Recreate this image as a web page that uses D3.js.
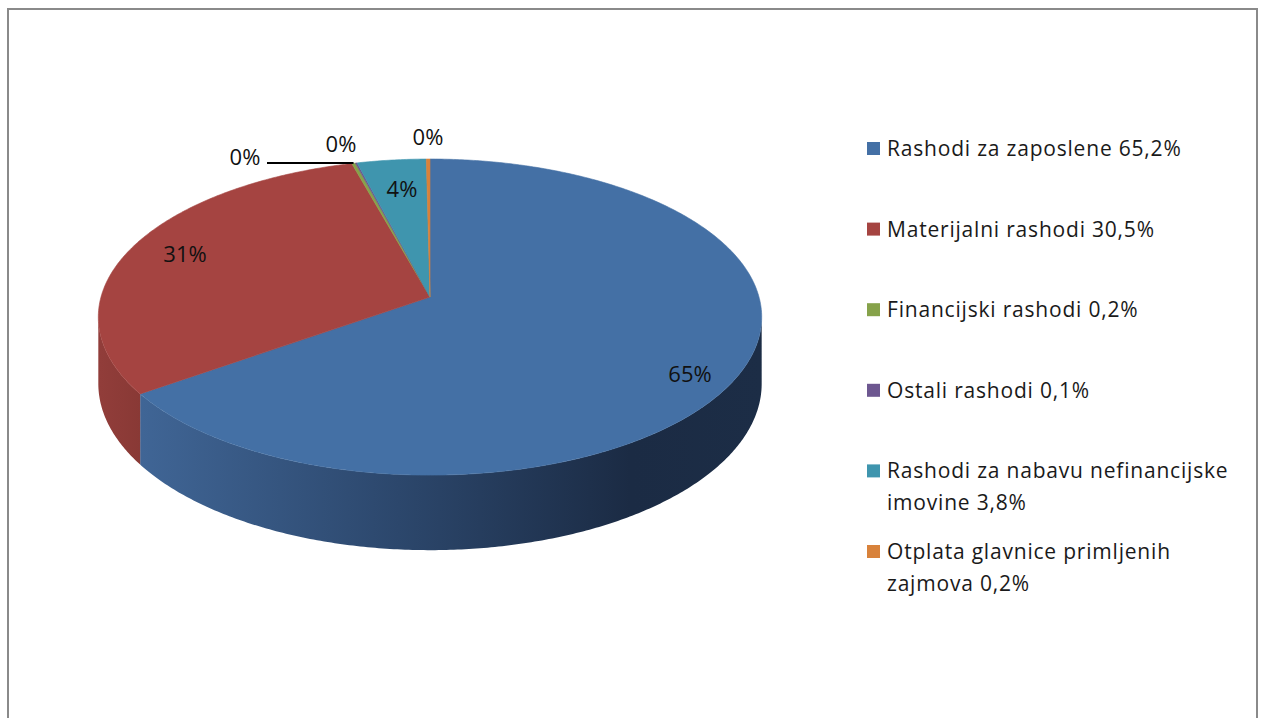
<!DOCTYPE html>
<html>
<head>
<meta charset="utf-8">
<script src="https://cdn.jsdelivr.net/npm/d3@7"></script>
<style>
  body { margin: 0; background: #fff; }
  svg { display: block; font-family: "Open Sans", Lato, sans-serif; }
</style>
</head>
<body>
<svg id="chart"></svg>
<script>
// data
const categories = ["Rashodi za zaposlene", "Materijalni rashodi", "Financijski rashodi",
  "Ostali rashodi", "Rashodi za nabavu nefinancijske imovine", "Otplata glavnice primljenih zajmova"];
const shares = [65.2, 30.5, 0.2, 0.1, 3.8, 0.2];
const legendLines = [
  ["Rashodi za zaposlene 65,2%"],
  ["Materijalni rashodi 30,5%"],
  ["Financijski rashodi 0,2%"],
  ["Ostali rashodi 0,1%"],
  ["Rashodi za nabavu nefinancijske", "imovine 3,8%"],
  ["Otplata glavnice primljenih", "zajmova 0,2%"]
];
const colors = ["#4470a5", "#a54441", "#86a24a", "#6d5790", "#3f95ae", "#d8823b"];
const sideColors = ["#2f4e78", "#8b3a37", "#6b833a", "#574573", "#2f7689", "#b0692e"];

// label placement (layout only)
const labelPos = [[690, 382], [185, 262], [245, 165], [341, 152], [402, 197], [428, 145]];

const W = 1264, H = 718;
const svg = d3.select("#chart").attr("width", W).attr("height", H);

// frame
svg.append("rect")
  .attr("x", 8).attr("y", 9).attr("width", 1249).attr("height", H + 10)
  .attr("fill", "none").attr("stroke", "#8a8a8a").attr("stroke-width", 2);

// 3D pie with a bit of perspective: centre projects to (cx, cy)
const cx = 430, cy = 297, A = 329, B = 155.5, e = 0.127, D = 65.5;
const proj = (t, drop) => {
  const u = Math.sin(t), v = -Math.cos(t), w = 1 - e * v;
  return [cx + A * u / w, cy + B * v / w + (drop ? D / w : 0)];
};

const pie = d3.pie().sort(null).value(d => d);
const arcs = pie(shares);

const defs = svg.append("defs");
const g1 = defs.append("linearGradient").attr("id", "blueSide")
  .attr("gradientUnits", "userSpaceOnUse")
  .attr("x1", 100).attr("x2", 763).attr("y1", 0).attr("y2", 0);
g1.append("stop").attr("offset", "0%").attr("stop-color", "#436a9c");
g1.append("stop").attr("offset", "45%").attr("stop-color", "#2c476c");
g1.append("stop").attr("offset", "80%").attr("stop-color", "#1b2b44");
g1.append("stop").attr("offset", "100%").attr("stop-color", "#1c2d46");
const g2 = defs.append("linearGradient").attr("id", "redSide")
  .attr("gradientUnits", "userSpaceOnUse")
  .attr("x1", 100).attr("x2", 150).attr("y1", 0).attr("y2", 0);
g2.append("stop").attr("offset", "0%").attr("stop-color", "#913d3a");
g2.append("stop").attr("offset", "100%").attr("stop-color", "#873834");

const line = d3.line();

// side walls: visible between the two silhouette tangents (cos t = -e)
const front0 = Math.acos(-e), front1 = 2 * Math.PI - Math.acos(-e);
arcs.forEach((a, i) => {
  const s = Math.max(a.startAngle, front0), en = Math.min(a.endAngle, front1);
  if (en <= s) return;
  const ts = d3.range(s, en, 0.01).concat([en]);
  const top = ts.map(t => proj(t, false));
  const bot = ts.slice().reverse().map(t => proj(t, true));
  svg.append("path")
    .attr("d", line(top.concat(bot)) + "Z")
    .attr("fill", i === 0 ? "url(#blueSide)" : i === 1 ? "url(#redSide)" : sideColors[i]);
});

// top faces
arcs.forEach((a, i) => {
  const ts = d3.range(a.startAngle, a.endAngle, 0.01).concat([a.endAngle]);
  const pts = [[cx, cy]].concat(ts.map(t => proj(t, false)));
  svg.append("path")
    .attr("d", line(pts) + "Z")
    .attr("fill", colors[i])
    .attr("stroke", colors[i]).attr("stroke-width", 0.6);
});

// data labels
const fmt = v => Math.round(v) + "%";
arcs.forEach((a, i) => {
  svg.append("text")
    .attr("x", labelPos[i][0]).attr("y", labelPos[i][1])
    .attr("text-anchor", "middle")
    .attr("font-size", 22).attr("fill", "#111")
    .text(fmt(a.data));
});
// leader line for the green slice label
const gEdge = proj((arcs[2].startAngle + arcs[2].endAngle) / 2, false);
svg.append("path")
  .attr("d", line([[267, 163], [gEdge[0], 163]]))
  .attr("stroke", "#000").attr("stroke-width", 2).attr("fill", "none");

// legend
const legendY = d3.scalePoint().domain(d3.range(categories.length)).range([148, 551]);
const leg = svg.append("g");
categories.forEach((c, i) => {
  const y0 = legendY(i);
  leg.append("rect")
    .attr("x", 867).attr("y", y0 - 6).attr("width", 13).attr("height", 13)
    .attr("fill", colors[i]);
  legendLines[i].forEach((l, j) => {
    leg.append("text")
      .attr("x", 887).attr("y", y0 + 8 + j * 32)
      .attr("font-size", 21).attr("letter-spacing", 0.8).attr("fill", "#1a1a1a")
      .text(l);
  });
});
</script>
</body>
</html>
